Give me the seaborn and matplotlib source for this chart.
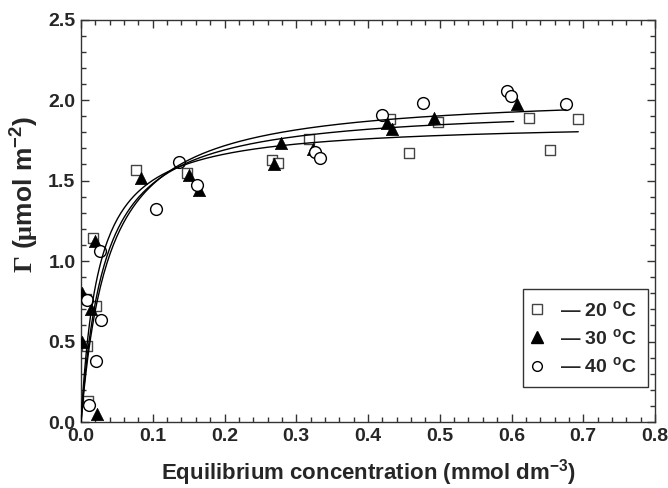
import numpy as np
import pandas as pd
import matplotlib
matplotlib.use("Agg")
import matplotlib.pyplot as plt
from matplotlib.ticker import MultipleLocator
from matplotlib.lines import Line2D
import seaborn as sns

# Adsorption data: equilibrium concentration (mmol dm^-3) and surface excess (umol m^-2)
conc_20 = [0.010, 0.008, 0.007, 0.021, 0.017, 0.076, 0.148, 0.266, 0.275, 0.318,
           0.431, 0.457, 0.497, 0.624, 0.692, 0.653]
gamma_20 = [0.13, 0.47, 0.765, 0.72, 1.14, 1.565, 1.545, 1.627, 1.607, 1.758,
            1.88, 1.67, 1.865, 1.886, 1.88, 1.69]

conc_30 = [0.001, 0.002, 0.014, 0.0195, 0.022, 0.084, 0.150, 0.164, 0.269, 0.279,
           0.323, 0.426, 0.433, 0.492, 0.607]
gamma_30 = [0.80, 0.497, 0.705, 1.125, 0.05, 1.513, 1.534, 1.44, 1.60, 1.73,
            1.694, 1.859, 1.818, 1.888, 1.973]

conc_40 = [0.0116, 0.008, 0.028, 0.021, 0.027, 0.1045, 0.137, 0.1616, 0.326, 0.333,
           0.419, 0.476, 0.593, 0.599, 0.676]
gamma_40 = [0.105, 0.758, 0.634, 0.38, 1.064, 1.323, 1.617, 1.472, 1.679, 1.638,
            1.907, 1.983, 2.058, 2.025, 1.973]

# Langmuir isotherm parameters (Gamma_max, K) and fitted range for each temperature
temps = ["20", "30", "40"]
gamma_max = [1.866, 1.968, 2.05]
k_langmuir = [41.2, 30.4, 25.7]
c_end = [0.693, 0.603, 0.676]

sns.set_theme(style="ticks")
plt.rcParams["font.family"] = ["Liberation Sans", "DejaVu Sans"]
plt.rcParams["font.weight"] = "bold"
plt.rcParams["mathtext.fontset"] = "custom"
plt.rcParams["mathtext.rm"] = "Liberation Sans:bold"
plt.rcParams["mathtext.bf"] = "Liberation Sans:bold"
plt.rcParams["mathtext.it"] = "Liberation Sans:bold"
plt.rcParams["mathtext.sf"] = "Liberation Serif"

fig = plt.figure(figsize=(6.68, 4.88), dpi=100)
ax = fig.add_axes([0.1213, 0.1352, 0.8593, 0.8248])

# fitted isotherms
for g, k, ce in zip(gamma_max, k_langmuir, c_end):
    c = np.linspace(0, ce, 300)
    fit = pd.DataFrame({"c": c, "g": g * k * c / (1 + k * c)})
    sns.lineplot(data=fit, x="c", y="g", color="black", lw=1.0, ax=ax,
                 zorder=5, estimator=None, sort=False)

sns.scatterplot(x=conc_20, y=gamma_20, marker="s", s=62, facecolor="white",
                edgecolor="#444444", linewidth=1.0, ax=ax, zorder=2)
sns.scatterplot(x=conc_30, y=gamma_30, marker="^", s=78, color="black",
                edgecolor="black", linewidth=0.5, ax=ax, zorder=3)
sns.scatterplot(x=conc_40, y=gamma_40, marker="o", s=72, facecolor="white",
                edgecolor="black", linewidth=1.0, ax=ax, zorder=4)

ax.set_xlim(0, 0.8)
ax.set_ylim(0, 2.5)
ax.set_xticks(np.arange(0, 0.81, 0.1))
ax.set_yticks(np.arange(0, 2.51, 0.5))
ax.xaxis.set_minor_locator(MultipleLocator(0.02))
ax.yaxis.set_minor_locator(MultipleLocator(0.1))
ax.set_xticklabels([f"{v:.1f}" for v in np.arange(0, 0.81, 0.1)])
ax.set_yticklabels([f"{v:.1f}" for v in np.arange(0, 2.51, 0.5)])
ax.tick_params(which="both", direction="in", top=True, right=True,
               color="#333333", width=1.0, labelsize=14, pad=4)
ax.tick_params(which="major", length=6)
ax.tick_params(which="minor", length=3.5)
for lab in ax.get_xticklabels() + ax.get_yticklabels():
    lab.set_fontweight("bold")
for sp in ax.spines.values():
    sp.set_color("#333333")
    sp.set_linewidth(1.0)

ax.set_xlabel(r"Equilibrium concentration (mmol dm$^{-3}$)",
              fontsize=16, fontweight="bold", va="baseline")
ax.set_ylabel(r"$\mathsf{\Gamma}$ ($\mathsf{\mu}$mol m$^{-2}$)",
              fontsize=19, fontweight="bold")
ax.yaxis.set_label_coords(-0.070, 0.565)
ax.xaxis.set_label_coords(0.5, -0.143)

handles = [
    Line2D([], [], ls="none", marker="s", ms=7, mfc="white", mec="#444444", mew=1.0),
    Line2D([], [], ls="none", marker="^", ms=8, mfc="black", mec="black"),
    Line2D([], [], ls="none", marker="o", ms=7, mfc="white", mec="black", mew=1.0),
]
labels = [f"\u2014 {t} $^{{\\rm o}}$C" for t in temps]
leg = ax.legend(handles, labels, loc="lower right", bbox_to_anchor=(0.987, 0.087),
                borderaxespad=0, fancybox=False, framealpha=1, edgecolor="#333333",
                prop={"size": 14, "weight": "bold"}, handlelength=0.3,
                handletextpad=1.05, labelspacing=0.42, borderpad=0.55)
leg.get_frame().set_linewidth(1.0)

fig.savefig("out.png", dpi=100)
